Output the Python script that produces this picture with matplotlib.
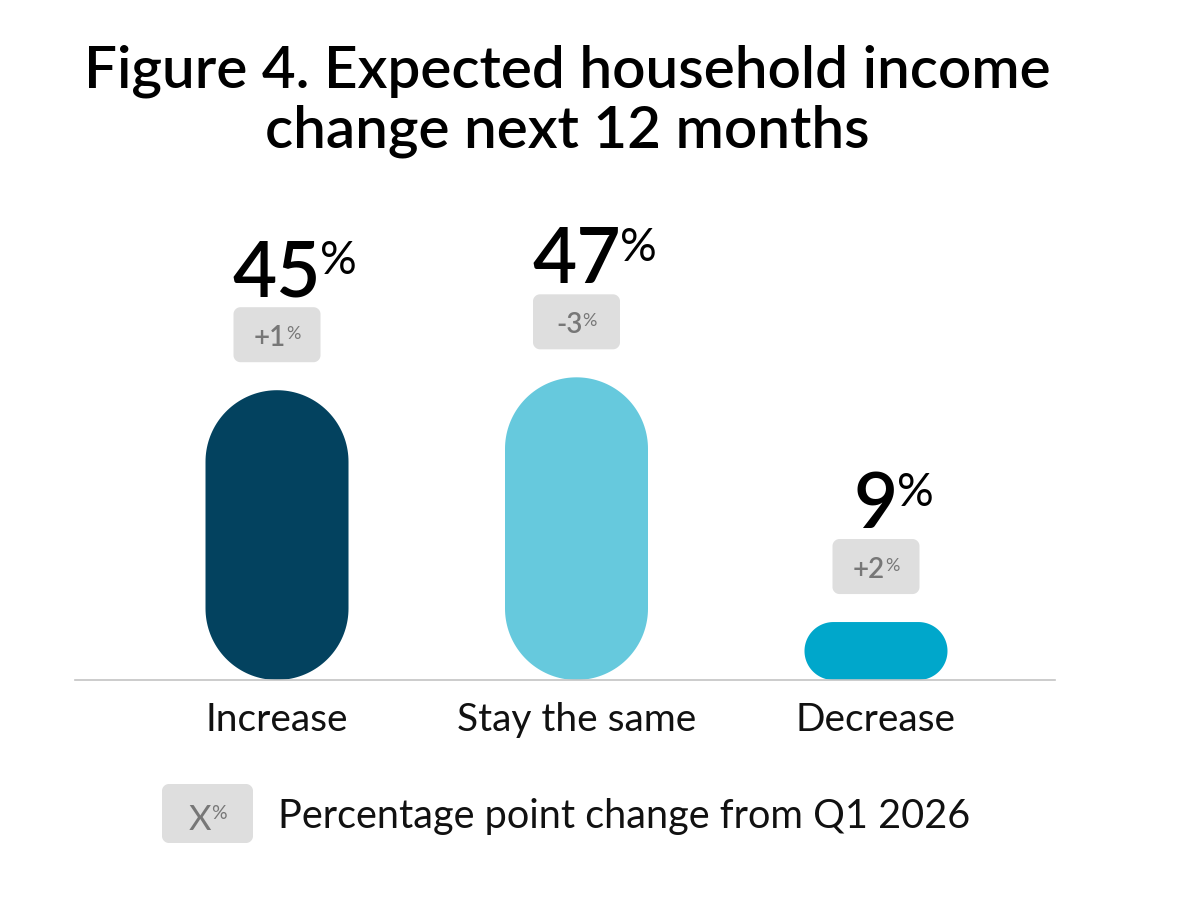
import numpy as np
import matplotlib
matplotlib.use('Agg')
import matplotlib.pyplot as plt
from matplotlib.patches import Polygon

plt.rcParams['font.family'] = ['Lato', 'DejaVu Sans']

# data
categories = ['Increase', 'Stay the same', 'Decrease']
values = [45, 47, 9]
changes = ['+1', '-3', '+2']
colors = ['#03425f', '#66c9dd', '#00a7cb']
title_lines = ['Figure 4. Expected household income', 'change next 12 months']
legend_label = 'Percentage point change from Q1 2026'

W, H = 1200, 903
fig = plt.figure(figsize=(W / 100, H / 100), dpi=100)

# full-figure axes in pixel units (top-left origin) for title and legend
pax = fig.add_axes([0, 0, 1, 1])
pax.set_xlim(0, W)
pax.set_ylim(H, 0)
pax.axis('off')

# data axes for the bars
ax_px = (75, 222, 980, 322)  # left, bottom, width, height in px
ax = fig.add_axes([ax_px[0] / W, ax_px[1] / H, ax_px[2] / W, ax_px[3] / H])
ax.set_xlim(-0.6745, 2.5977)
ax.set_ylim(0, 50)
ax.axis('off')
xpp = (ax.get_xlim()[1] - ax.get_xlim()[0]) / ax_px[2]   # data x per pixel
ypp = (ax.get_ylim()[1] - ax.get_ylim()[0]) / ax_px[3]   # data y per pixel

renderer = fig.canvas.get_renderer()


def pt2px(pt):
    return pt * 100 / 72.0


def rounded_box(w, h, r, n=40):
    # outline of a rounded rectangle, pixel offsets from its bottom centre
    r = min(r, w / 2, h / 2)
    corners = [(w / 2 - r, h - r, 0, 90), (-w / 2 + r, h - r, 90, 180),
               (-w / 2 + r, r, 180, 270), (w / 2 - r, r, 270, 360)]
    pts = []
    for cx, cy, a0, a1 in corners:
        t = np.radians(np.linspace(a0, a1, n))
        pts += list(zip(cx + r * np.cos(t), cy + r * np.sin(t)))
    return np.array(pts)


def sup_text(axis, x, y, main, sup, size, sup_size, color, weight, sweight, sx, sy,
             center_group=True, gap=0):
    # main text plus a small superscript "%" ; sx, sy = data units per pixel (sy signed)
    t1 = axis.text(x, y, main, ha='center', va='baseline', fontsize=size,
                   color=color, fontweight=weight, clip_on=False)
    t2 = axis.text(x, y, sup, ha='left', va='baseline', fontsize=sup_size,
                   color=color, fontweight=sweight, clip_on=False)
    w1 = t1.get_window_extent(renderer).width
    w2 = t2.get_window_extent(renderer).width
    shift = w2 / 2 if center_group else 0
    t1.set_x(x - shift * sx)
    t2.set_x(x + (w1 / 2 - shift + gap) * sx)
    rise = 0.7165 * (pt2px(size) - pt2px(sup_size))
    t2.set_y(y + rise * sy)


bar_w_px = 143
for i, (v, c) in enumerate(zip(values, colors)):
    h_px = v / ypp
    pts = rounded_box(bar_w_px, h_px, bar_w_px / 2)
    ax.add_patch(Polygon(np.column_stack([i + pts[:, 0] * xpp, pts[:, 1] * ypp]),
                         closed=True, fc=c, ec='none', clip_on=False))

    # change badge
    badge_y = v + 28 * ypp
    bpts = rounded_box(87, 55, 7)
    ax.add_patch(Polygon(np.column_stack([i + bpts[:, 0] * xpp, badge_y + bpts[:, 1] * ypp]),
                         closed=True, fc='#dedede', ec='none', clip_on=False))
    sup_text(ax, i, badge_y + 17 * ypp, changes[i], '%', 20, 13, '#777777',
             'semibold', 'normal', xpp, ypp)

    # value label
    sup_text(ax, i, v + 95 * ypp, str(v), '%', 55, 33, 'black',
             'semibold', 'normal', xpp, ypp, center_group=False, gap=-1)

    ax.text(i, -50 * ypp, categories[i], ha='center', va='baseline',
            fontsize=28, color='#111111', clip_on=False)

ax.axhline(0, color='#c4c4c4', lw=1.2, clip_on=False)

# title
pax.text(567, 88, title_lines[0], ha='center', va='baseline', fontsize=42,
         fontweight='semibold', color='black')
pax.text(567, 148, title_lines[1], ha='center', va='baseline', fontsize=42,
         fontweight='semibold', color='black')

# legend
lpts = rounded_box(91, 59, 7)
pax.add_patch(Polygon(np.column_stack([207.5 + lpts[:, 0], 844 - lpts[:, 1]]),
                      closed=True, fc='#dedede', ec='none'))
sup_text(pax, 207.5, 830, 'X', '%', 25, 14, '#777777', 'normal', 'normal', 1, -1)
pax.text(278, 828, legend_label, ha='left', va='baseline', fontsize=28.5, color='#111111')

fig.savefig('out.png', dpi=100)
